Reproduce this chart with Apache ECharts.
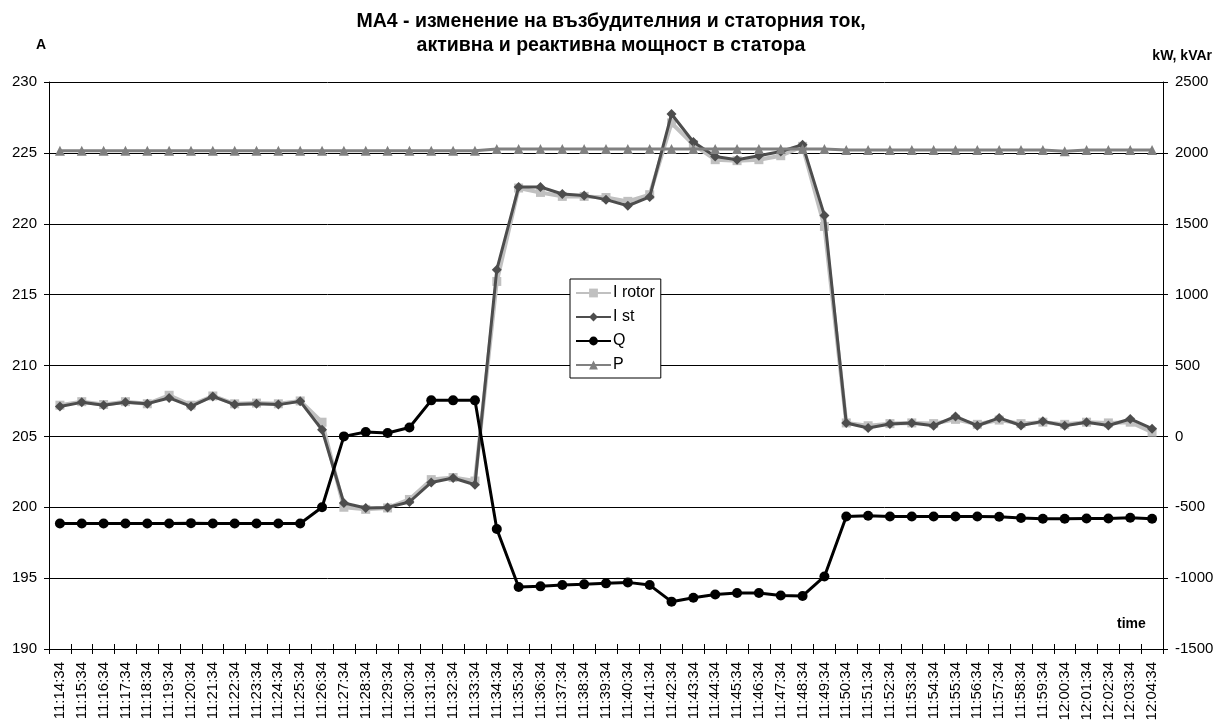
<!DOCTYPE html>
<html>
<head>
<meta charset="utf-8">
<script src="https://cdn.jsdelivr.net/npm/echarts@6/dist/echarts.min.js"></script>
<style>
html,body{margin:0;padding:0;background:#fff;}
#c{width:1218px;height:724px;}
</style>
</head>
<body>
<div id="c"></div>
<script>
var categories = ['11:14:34','11:15:34','11:16:34','11:17:34','11:18:34','11:19:34','11:20:34','11:21:34','11:22:34','11:23:34',
'11:24:34','11:25:34','11:26:34','11:27:34','11:28:34','11:29:34','11:30:34','11:31:34','11:32:34','11:33:34',
'11:34:34','11:35:34','11:36:34','11:37:34','11:38:34','11:39:34','11:40:34','11:41:34','11:42:34','11:43:34',
'11:44:34','11:45:34','11:46:34','11:47:34','11:48:34','11:49:34','11:50:34','11:51:34','11:52:34','11:53:34',
'11:54:34','11:55:34','11:56:34','11:57:34','11:58:34','11:59:34','12:00:34','12:01:34','12:02:34','12:03:34','12:04:34'];

var iRotor = [207.2,207.45,207.25,207.45,207.3,207.9,207.2,207.85,207.3,207.35,
207.3,207.5,206.0,200.0,199.85,199.95,200.55,201.95,202.1,201.85,
215.93,222.52,222.21,221.93,221.93,221.85,221.58,222.05,227.11,225.58,
224.52,224.45,224.52,224.8,225.46,219.81,205.95,205.75,205.9,205.95,
205.9,206.2,205.85,206.15,205.9,206.0,205.85,206.0,205.95,206.0,205.3];

var iSt = [207.11,207.40,207.19,207.40,207.31,207.71,207.11,207.82,207.24,207.31,
207.24,207.47,205.47,200.30,199.95,199.99,200.37,201.75,202.06,201.59,
216.76,222.59,222.59,222.10,222.0,221.70,221.27,221.89,227.74,225.77,
224.75,224.52,224.80,225.10,225.58,220.59,205.94,205.59,205.87,205.94,
205.75,206.41,205.75,206.30,205.77,206.06,205.75,205.99,205.77,206.23,205.54];

var qVals = [-615,-615,-615,-615,-615,-615,-612,-615,-615,-615,
-615,-615,-500,0,31,24,63,254,254,254,
-653,-1063,-1058,-1049,-1044,-1037,-1030,-1049,-1166,-1138,
-1115,-1105,-1105,-1122,-1126,-988,-565,-560,-565,-565,
-565,-565,-565,-567,-576,-581,-581,-579,-579,-574,-581];

var pVals = [2015,2015,2015,2015,2015,2015,2015,2015,2015,2015,
2015,2015,2015,2015,2015,2015,2015,2015,2015,2015,
2028,2028,2028,2028,2028,2028,2028,2028,2028,2028,
2028,2028,2028,2028,2028,2028,2020,2020,2020,2020,
2020,2020,2020,2020,2020,2020,2012,2020,2020,2020,2020];

var leftTicks = {min:190, max:230, interval:5};
var rightTicks = {min:-1500, max:2500, interval:500};

var FONT = 'Liberation Sans';
var chart = echarts.init(document.getElementById('c'), null, {renderer:'canvas'});

function plain(v){ return String(v); }

function tickAxisY(pos, t){
  return {type:'value', position:pos, min:t.min, max:t.max, interval:t.interval,
    axisLine:{show:false, onZero:false}, axisLabel:{show:false}, splitLine:{show:false},
    axisTick:{show:true, inside:true, length:5, lineStyle:{color:'#000', width:1}}};
}

chart.setOption({
  animation:false,
  backgroundColor:'#fff',
  title:{
    text:'МА4 - изменение на възбудителния и статорния ток,\nактивна и реактивна мощност в статора',
    left:606, top:5, textAlign:'center',
    textStyle:{fontFamily:FONT, fontSize:19.5, fontWeight:'bold', color:'#000', lineHeight:24}
  },
  legend:{
    orient:'vertical', left:570, top:279,
    padding:[6,6,5,5], itemGap:8, itemWidth:35, itemHeight:11,
    backgroundColor:'#fff', borderColor:'#000', borderWidth:1,
    textStyle:{fontFamily:FONT, fontSize:16, lineHeight:16, color:'#000', padding:[0,0,0,-3]},
    data:['I rotor','I st','Q','P']
  },
  grid:{left:49, right:55, top:82, bottom:75},
  xAxis:[{
    type:'category', data:categories, boundaryGap:true,
    axisLine:{show:true, onZero:false, lineStyle:{color:'#000', width:1}},
    axisTick:{show:true, length:5, interval:0, lineStyle:{color:'#000'}},
    axisLabel:{interval:0, rotate:90, margin:13, fontFamily:FONT, fontSize:15, color:'#000'},
    splitLine:{show:false}
  },{
    type:'category', data:categories, boundaryGap:true, position:'bottom',
    axisLine:{show:false, onZero:false}, axisLabel:{show:false}, splitLine:{show:false},
    axisTick:{show:true, inside:true, length:5, interval:0, lineStyle:{color:'#000'}}
  }],
  yAxis:[{
    type:'value', position:'left', min:leftTicks.min, max:leftTicks.max, interval:leftTicks.interval,
    axisLine:{show:true, onZero:false, lineStyle:{color:'#000', width:1}},
    axisTick:{show:true, length:5, lineStyle:{color:'#000'}},
    axisLabel:{margin:12, fontFamily:FONT, fontSize:15, color:'#000', formatter:plain},
    splitLine:{show:true, lineStyle:{color:'#000', width:1}}
  },{
    type:'value', position:'right', min:rightTicks.min, max:rightTicks.max, interval:rightTicks.interval,
    axisLine:{show:true, onZero:false, lineStyle:{color:'#000', width:1}},
    axisTick:{show:true, length:5, lineStyle:{color:'#000'}},
    axisLabel:{margin:12, fontFamily:FONT, fontSize:15, color:'#000', formatter:plain},
    splitLine:{show:false}
  },
  tickAxisY('left', leftTicks),
  tickAxisY('right', rightTicks)
  ],
  graphic:[
    {type:'text', left:36, top:38, style:{text:'A', fontFamily:FONT, fontSize:14, fontWeight:'bold', fill:'#000'}},
    {type:'text', right:6, top:49, style:{text:'kW, kVAr', fontFamily:FONT, fontSize:14, fontWeight:'bold', fill:'#000'}},
    {type:'text', left:1117, top:617, style:{text:'time', fontFamily:FONT, fontSize:14, fontWeight:'bold', fill:'#000'}}
  ],
  series:[
    {name:'I rotor', type:'line', xAxisIndex:0, yAxisIndex:0, data:iRotor,
     symbol:'rect', symbolSize:9, itemStyle:{color:'#c0c0c0'}, lineStyle:{color:'#c0c0c0', width:4}, z:2},
    {name:'I st', type:'line', xAxisIndex:0, yAxisIndex:0, data:iSt,
     symbol:'diamond', symbolSize:10, itemStyle:{color:'#4d4d4d'}, lineStyle:{color:'#4d4d4d', width:3}, z:3},
    {name:'Q', type:'line', xAxisIndex:0, yAxisIndex:1, data:qVals,
     symbol:'circle', symbolSize:10, itemStyle:{color:'#000'}, lineStyle:{color:'#000', width:3}, z:4},
    {name:'P', type:'line', xAxisIndex:0, yAxisIndex:1, data:pVals,
     symbol:'triangle', symbolSize:10, itemStyle:{color:'#808080'}, lineStyle:{color:'#808080', width:3}, z:5}
  ]
});
</script>
</body>
</html>
